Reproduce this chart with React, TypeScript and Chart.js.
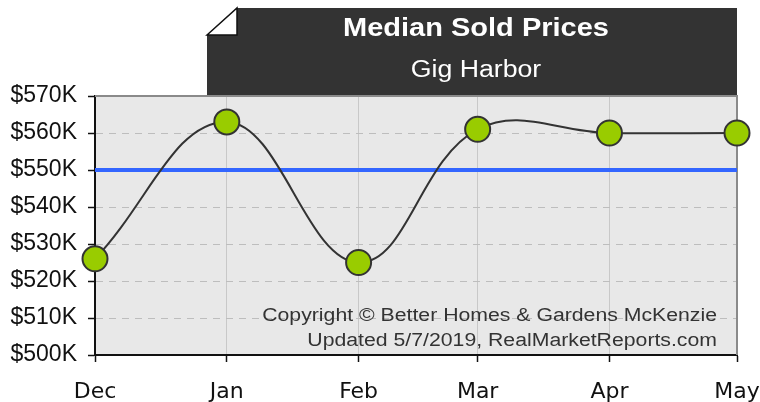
import React, { useEffect, useRef } from "react";
import { Chart, registerables } from "chart.js";

Chart.register(...registerables);

// ---- Data ----
const months = ["Dec", "Jan", "Feb", "Mar", "Apr", "May"];
const dayOffsets = [0, 31, 62, 90, 121, 151]; // days since Dec 1, 2018
const medianPrices = [526000, 563000, 525000, 561000, 560000, 560000];
const referencePrice = 550000;
const yMin = 500000;
const yMax = 570000;
const yStep = 10000;
const titleText = "Median Sold Prices";
const subtitleText = "Gig Harbor";
const copyrightLines = [
  "Copyright © Better Homes & Gardens McKenzie",
  "Updated 5/7/2019, RealMarketReports.com",
];

const decorPlugin = {
  id: "decor",
  beforeDraw(chart: any) {
    const { ctx, chartArea } = chart;
    const { left, top, right, bottom } = chartArea;
    ctx.save();
    // plot background
    ctx.fillStyle = "#e8e8e8";
    ctx.fillRect(left, top, right - left, bottom - top);
    // banner
    const bx = 207;
    const by = 8;
    const fold = 30;
    const foldH = 27;
    ctx.fillStyle = "#333333";
    ctx.beginPath();
    ctx.moveTo(bx, by + foldH);
    ctx.lineTo(bx + fold, by);
    ctx.lineTo(right, by);
    ctx.lineTo(right, top);
    ctx.lineTo(bx, top);
    ctx.closePath();
    ctx.fill();
    // folded corner
    ctx.fillStyle = "#ffffff";
    ctx.strokeStyle = "#111111";
    ctx.lineWidth = 1.5;
    ctx.beginPath();
    ctx.moveTo(bx, by + foldH);
    ctx.lineTo(bx + fold, by);
    ctx.lineTo(bx + fold, by + foldH);
    ctx.closePath();
    ctx.fill();
    ctx.stroke();
    // titles
    const cx = (bx + right) / 2 + 4;
    ctx.fillStyle = "#ffffff";
    ctx.textAlign = "center";
    ctx.textBaseline = "alphabetic";
    ctx.font = "bold 25px 'Liberation Sans', Arial, sans-serif";
    ctx.save();
    ctx.translate(cx, 36);
    ctx.scale(1.16, 1);
    ctx.fillText(titleText, 0, 0);
    ctx.restore();
    ctx.font = "23px 'Liberation Sans', Arial, sans-serif";
    ctx.save();
    ctx.translate(cx, 77);
    ctx.scale(1.16, 1);
    ctx.fillText(subtitleText, 0, 0);
    ctx.restore();
    ctx.restore();
  },
  beforeDatasetsDraw(chart: any) {
    const { ctx, chartArea } = chart;
    const { left, top, right, bottom } = chartArea;
    ctx.save();
    ctx.strokeStyle = "#8a8a8a";
    ctx.lineWidth = 2;
    ctx.beginPath();
    ctx.moveTo(left, top);
    ctx.lineTo(right, top);
    ctx.lineTo(right, bottom);
    ctx.stroke();
    ctx.restore();
  },
  afterDraw(chart: any) {
    const { ctx, chartArea } = chart;
    ctx.save();
    ctx.fillStyle = "#333333";
    ctx.textAlign = "right";
    ctx.textBaseline = "alphabetic";
    ctx.font = "18px 'Liberation Sans', Arial, sans-serif";
    const xr = chartArea.right - 20;
    copyrightLines.forEach((line, i) => {
      ctx.save();
      ctx.translate(xr, 321 + i * 25);
      ctx.scale(1.18, 1);
      ctx.fillText(line, 0, 0);
      ctx.restore();
    });
    ctx.restore();
  },
};

export default function App() {
  const canvasRef = useRef<HTMLCanvasElement | null>(null);

  useEffect(() => {
    if (!canvasRef.current) return;
    const points = dayOffsets.map((d, i) => ({ x: d, y: medianPrices[i] }));
    const refLine = [
      { x: dayOffsets[0], y: referencePrice },
      { x: dayOffsets[dayOffsets.length - 1], y: referencePrice },
    ];
    const chart = new Chart(canvasRef.current, {
      type: "line",
      data: {
        datasets: [
          {
            label: "Median Sold Price",
            data: points,
            borderColor: "#333333",
            borderWidth: 2,
            tension: 0.4,
            pointRadius: 12.5,
            pointHoverRadius: 12.5,
            pointBackgroundColor: "#99cc00",
            pointBorderColor: "#333333",
            pointBorderWidth: 2,
            clip: false,
          } as any,
          {
            label: "Reference",
            data: refLine,
            borderColor: "#3366ff",
            borderWidth: 4,
            pointRadius: 0,
            tension: 0,
          } as any,
        ],
      },
      options: {
        responsive: false,
        animation: false,
        events: [],
        layout: { padding: { top: 96, right: 23, left: 0, bottom: 0 } },
        plugins: {
          legend: { display: false },
          tooltip: { enabled: false },
          title: { display: false },
        },
        scales: {
          x: {
            type: "linear",
            min: dayOffsets[0],
            max: dayOffsets[dayOffsets.length - 1],
            afterBuildTicks: (axis: any) => {
              axis.ticks = dayOffsets.map((v) => ({ value: v }));
            },
            afterFit: (axis: any) => {
              axis.height = 47;
              axis.paddingLeft = 0;
              axis.paddingRight = 0;
            },
            ticks: {
              autoSkip: false,
              maxRotation: 0,
              color: "#111111",
              padding: 17,
              font: { family: "'DejaVu Sans', Verdana, sans-serif", size: 22 },
              callback: (value: any) => {
                const idx = dayOffsets.indexOf(Number(value));
                return idx >= 0 ? months[idx] : "";
              },
            },
            grid: {
              color: "#c8c8c8",
              lineWidth: 1,
              drawTicks: true,
              tickLength: 7,
              tickColor: "#111111",
              tickWidth: 1.5,
            },
            border: { display: true, color: "#111111", width: 2 },
          } as any,
          y: {
            type: "linear",
            min: yMin,
            max: yMax,
            afterFit: (axis: any) => {
              axis.width = 95;
              axis.paddingTop = 0;
              axis.paddingBottom = 0;
            },
            ticks: {
              stepSize: yStep,
              color: "#111111",
              padding: 11,
              font: { family: "'Liberation Sans', Arial, sans-serif", size: 23 },
              callback: (value: any) => "$" + Math.round(Number(value) / 1000) + "K",
            },
            grid: {
              color: "#bdbdbd",
              lineWidth: 1,
              drawTicks: true,
              tickLength: 7,
              tickColor: "#111111",
              tickWidth: 1.5,
            },
            border: { display: true, color: "#111111", width: 2, dash: [7, 6] },
          } as any,
        },
      },
      plugins: [decorPlugin],
    });
    return () => chart.destroy();
  }, []);

  return (
    <div style={{ position: "fixed", left: 0, top: 0, width: 760, height: 402, background: "#ffffff" }}>
      <canvas ref={canvasRef} width={760} height={402} style={{ display: "block" }} />
    </div>
  );
}
